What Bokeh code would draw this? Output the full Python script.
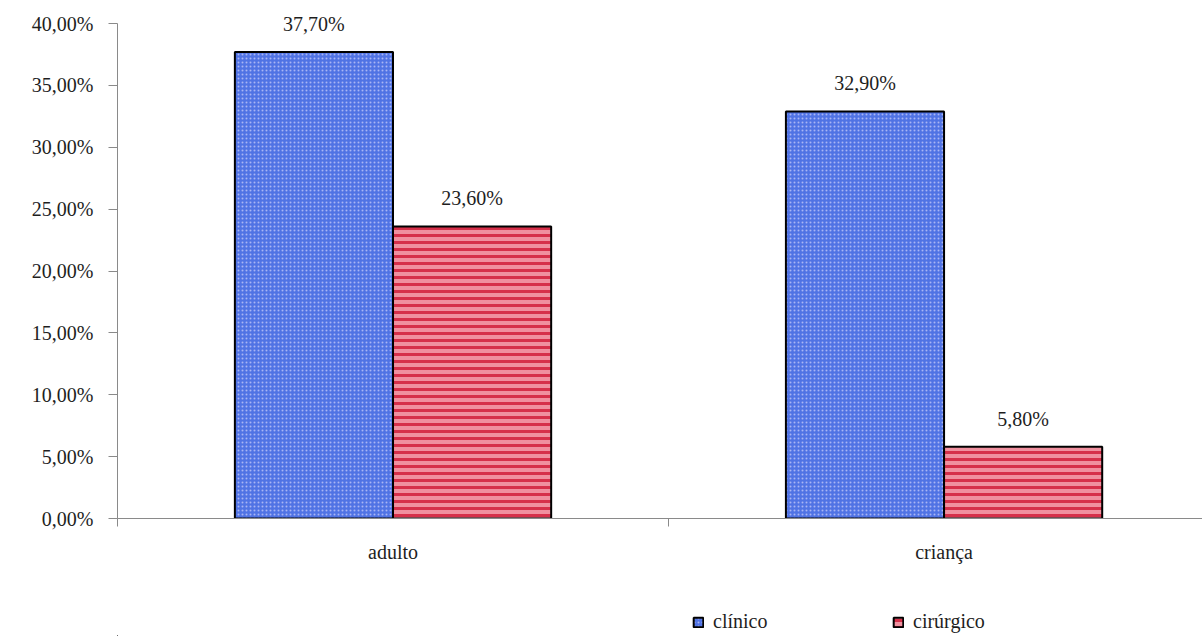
from bokeh.plotting import figure
from bokeh.layouts import column
from bokeh.models import (ColumnDataSource, Range1d, FixedTicker, Legend, LegendItem,
                          LabelSet)
from bokeh.core.properties import value
from bokeh.embed import file_html
from bokeh.resources import INLINE

categories = ["adulto", "criança"]
series_names = ["clínico", "cirúrgico"]
clinico = [37.7, 32.9]
cirurgico = [23.6, 5.8]
y_ticks = [0, 5, 10, 15, 20, 25, 30, 35, 40]

FONT = "Liberation Serif"
TXT = "#1e1e1e"
AXC = "#8a8a8a"

STYLE_A = dict(fill_color="#5073e4", line_color="black", line_width=2,
               hatch_pattern="dot", hatch_color="#a9b5f4", hatch_scale=4, hatch_weight=1)
STYLE_B = dict(fill_color="#f0909f", line_color="black", line_width=2,
               hatch_pattern="horizontal_line", hatch_color="#d6304a",
               hatch_scale=7, hatch_weight=3)

def pct(v):
    return ("%.2f%%" % v).replace(".", ",")

idx = list(range(len(categories)))
centers = [i + 0.5 for i in idx]
bw = 0.287

src_a = ColumnDataSource(dict(x=[c - bw / 2 for c in centers], top=clinico,
                              lab=[pct(v) for v in clinico]))
src_b = ColumnDataSource(dict(x=[c + bw / 2 for c in centers], top=cirurgico,
                              lab=[pct(v) for v in cirurgico]))

p = figure(width=1202, height=575, output_backend="svg", toolbar_location=None,
           x_range=Range1d(0, 1.969), y_range=Range1d(0, 41.86),
           min_border_left=117, min_border_right=0, min_border_top=0,
           min_border_bottom=57)
p.outline_line_color = None
p.grid.visible = False
p.background_fill_color = "white"
p.border_fill_color = "white"

ra = p.vbar(x="x", top="top", width=bw, source=src_a, **STYLE_A)
rb = p.vbar(x="x", top="top", width=bw, source=src_b, **STYLE_B)

for s in (src_a, src_b):
    p.add_layout(LabelSet(x="x", y="top", text="lab", source=s, text_align="center",
                          text_baseline="bottom", y_offset=17,
                          text_font=value(FONT), text_font_size="20px",
                          text_color=TXT))

# y axis
ya = p.yaxis[0]
ya.bounds = (0, 40)
ya.ticker = FixedTicker(ticks=y_ticks)
ya.major_label_overrides = {t: pct(t) for t in y_ticks}
ya.major_label_text_font = FONT
ya.major_label_text_font_size = "20px"
ya.major_label_text_color = TXT
ya.axis_line_color = AXC
ya.major_tick_line_color = AXC
ya.major_tick_in = 0
ya.major_tick_out = 9
ya.minor_tick_line_color = None
ya.major_label_standoff = 15

# x axis
xa = p.xaxis[0]
xa.ticker = FixedTicker(ticks=centers, minor_ticks=[float(i) for i in range(len(categories) + 1)])
xa.major_label_overrides = {c: categories[i] for i, c in enumerate(centers)}
xa.major_label_text_font = FONT
xa.major_label_text_font_size = "20px"
xa.major_label_text_color = TXT
xa.axis_line_color = AXC
xa.major_tick_line_color = None
xa.major_tick_in = 0
xa.major_tick_out = 0
xa.minor_tick_line_color = AXC
xa.minor_tick_in = 0
xa.minor_tick_out = 8
xa.major_label_standoff = 14

# legend strip (its renderers reuse the data sources but lie outside its view)
lg = figure(width=1202, height=61, output_backend="svg", toolbar_location=None,
            x_range=Range1d(100, 101), y_range=Range1d(100, 101),
            x_axis_location=None, y_axis_location=None,
            min_border_left=117, min_border_right=0, min_border_top=0, min_border_bottom=0)
lg.outline_line_color = None
lg.grid.visible = False
la = lg.vbar(x="x", top="top", width=bw, source=src_a, **STYLE_A)
lb = lg.vbar(x="x", top="top", width=bw, source=src_b, **STYLE_B)
legend = Legend(items=[LegendItem(label=series_names[0], renderers=[la]),
                       LegendItem(label=series_names[1], renderers=[lb])],
                orientation="horizontal", location=(575, 3),
                label_text_font=FONT, label_text_font_size="20px",
                label_text_color=TXT, glyph_width=12, glyph_height=12,
                label_standoff=9, label_width=170, spacing=9, padding=0,
                border_line_color=None, background_fill_alpha=0)
lg.add_layout(legend, "center")

layout = column(p, lg, spacing=0)
open("out.html", "w").write(file_html(layout, INLINE))
